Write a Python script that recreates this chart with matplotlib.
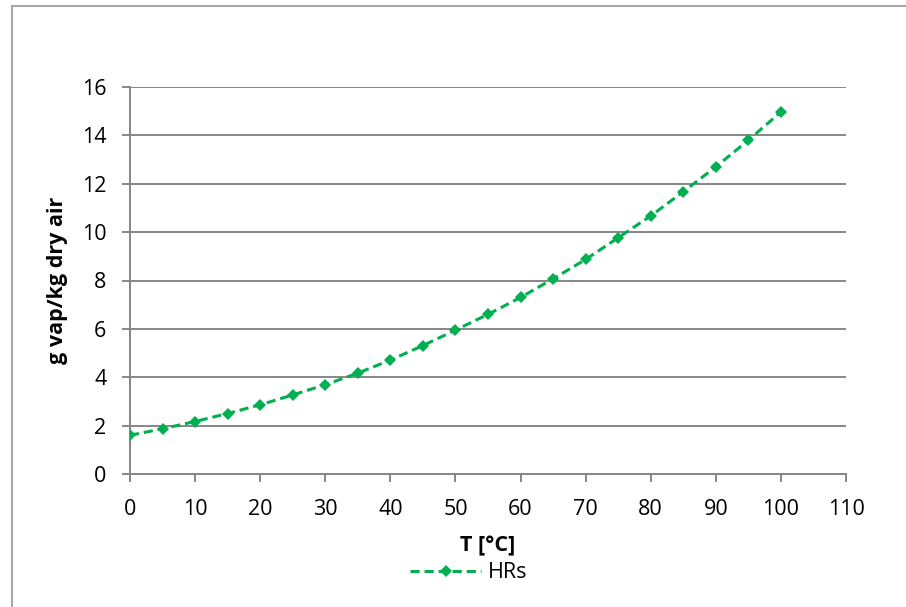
import matplotlib.pyplot as plt
from matplotlib.patches import Rectangle

# temperature [°C] and saturated humidity ratio [g vap / kg dry air]
temps = [0, 5, 10, 15, 20, 25, 30, 35, 40, 45, 50,
         55, 60, 65, 70, 75, 80, 85, 90, 95, 100]
hrs = [1.6, 1.87, 2.17, 2.5, 2.86, 3.27, 3.69, 4.17, 4.71, 5.31, 5.95,
       6.6, 7.3, 8.07, 8.87, 9.77, 10.67, 11.67, 12.7, 13.8, 14.97]

x_ticks = list(range(0, 111, 10))
y_ticks = list(range(0, 17, 2))

GREEN = "#00B050"
GRID = "#868686"

plt.rcParams["font.family"] = ["Open Sans", "DejaVu Sans"]

fig = plt.figure(figsize=(9.06, 6.07), dpi=100)
ax = fig.add_axes([130 / 906, 1 - 474 / 607, 716 / 906, 387 / 607])

# outer chart-area frame
fig.patches.append(Rectangle((11.5 / 906, -0.05), 1.0, 1 - 5.5 / 607 + 0.05,
                             transform=fig.transFigure, fill=False,
                             edgecolor="#A6A6A6", linewidth=1.5))

ax.plot(temps, hrs, color=GREEN, linestyle=(0, (3, 1.6)), linewidth=2.2,
        marker="D", markersize=6.5, markeredgewidth=0, label="HRs", zorder=3)

ax.set_xlim(0, 110)
ax.set_ylim(0, 16)
ax.set_xticks(x_ticks)
ax.set_yticks(y_ticks)
ax.yaxis.grid(True, color=GRID, linewidth=1.4)
ax.set_axisbelow(True)

for side in ("top", "right"):
    ax.spines[side].set_visible(False)
for side in ("left", "bottom"):
    ax.spines[side].set_color(GRID)
    ax.spines[side].set_linewidth(1.4)

ax.tick_params(axis="both", direction="out", length=6, width=1.4, color=GRID,
               labelsize=15.5, labelcolor="black")
ax.tick_params(axis="x", pad=12)
ax.tick_params(axis="y", pad=11)

ax.set_xlabel("T [°C]", fontsize=15.5, fontweight="bold")
ax.xaxis.set_label_coords(0.5, -0.158)
ax.set_ylabel("g vap/kg dry air", fontsize=15.5, fontweight="bold")
ax.yaxis.set_label_coords(-0.086, 0.5)

ax.legend(loc="upper center", bbox_to_anchor=(0.473, -0.178), frameon=False,
          fontsize=15.5, handlelength=3.3, handletextpad=0.3)

fig.savefig("out.png", dpi=100)
